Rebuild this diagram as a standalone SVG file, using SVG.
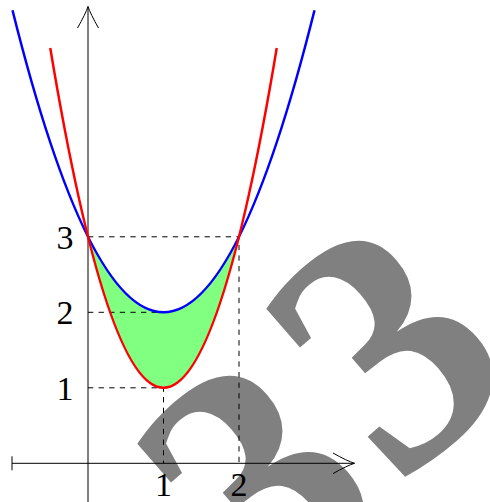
<svg xmlns="http://www.w3.org/2000/svg" width="490" height="502" viewBox="0 0 490 502">
<style>
.big{font-family:"Liberation Serif","Times New Roman",serif;font-size:345px;font-weight:bold;fill:#808080;text-anchor:middle}
.lbl{font-family:"Liberation Serif","Times New Roman",serif;font-size:34px;fill:#000;text-anchor:middle}
.axis{stroke:#000;stroke-width:1;fill:none}
.dash{stroke:#000;stroke-width:1;stroke-dasharray:5.3 5.3;fill:none}
.curve{fill:none;stroke-width:2.5}
</style>
<rect width="490" height="502" fill="#fff"/>
<g id="bigthrees">
<text class="big" transform="translate(385,345) rotate(-41)" x="0" y="116">3</text>
<text class="big" transform="translate(256,480) rotate(-41)" x="0" y="116">3</text>
</g>
<g id="region">
<path d="M88,236.8 Q163.5,387.8 239,236.8 Q163.5,538.8 88,236.8 Z" fill="#80ff80"/>
</g>
<g id="guides">
<path class="dash" d="M88,236.8 H239 V463.3"/>
<path class="dash" d="M88,312.3 H163.5"/>
<path class="dash" d="M88,387.8 H163.5 V463.3"/>
</g>
<g id="axes">
<path class="axis" d="M12,463.3 H354.5 M12,456.3 V470.3"/>
<path class="axis" d="M333,453 Q347,461 354.5,463.3 Q347,465.6 333,473.6"/>
<path class="axis" d="M88,502 V6.5"/>
<path class="axis" d="M77.5,28 Q85.5,14 88,6.5 Q90.5,14 98.5,28"/>
</g>
<g id="curves">
<path class="curve" stroke="#0000ff" d="M12.5,10.3 Q163.5,614.3 314.5,10.3"/>
<path class="curve" stroke="#ff0000" d="M50.25,48.05 Q163.5,727.55 276.75,48.05"/>
</g>
<g id="labels">
<text class="lbl" x="65" y="248.5">3</text>
<text class="lbl" x="65" y="324">2</text>
<text class="lbl" x="65" y="399.5">1</text>
<text class="lbl" x="163.5" y="496">1</text>
<text class="lbl" x="239" y="496">2</text>
</g>
</svg>
